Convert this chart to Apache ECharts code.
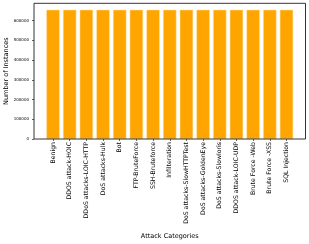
<!DOCTYPE html>
<html>
<head>
<meta charset="utf-8">
<style>html,body{margin:0;padding:0;background:#fff;}#c{width:309px;height:244px;}</style>
<script src="https://cdn.jsdelivr.net/npm/echarts@6/dist/echarts.min.js"></script>
</head>
<body>
<div id="c"></div>
<script>
var categories = ["Benign","DDOS attack-HOIC","DDoS attacks-LOIC-HTTP","DoS attacks-Hulk","Bot","FTP-BruteForce","SSH-Bruteforce","Infilteration","DoS attacks-SlowHTTPTest","DoS attacks-GoldenEye","DoS attacks-Slowloris","DDOS attack-LOIC-UDP","Brute Force -Web","Brute Force -XSS","SQL Injection"];
var counts = [655000,655000,655000,655000,655000,655000,655000,655000,655000,655000,655000,655000,655000,655000,655000];
var yTicks = [0,100000,200000,300000,400000,500000,600000];

var yMax = 687750;
var font = 'DejaVu Sans';
var chart = echarts.init(document.getElementById('c'), null, {renderer:'canvas'});
chart.setOption({
  animation: false,
  grid: [
    {left: 44.67, right: 14.17, top: 3.3, bottom: 105, containLabel: false, outerBoundsMode: 'none'},
    {left: 34, right: 3.5, top: 3.3, bottom: 105, containLabel: false, outerBoundsMode: 'none',
     show: true, borderColor: '#000', borderWidth: 0.8, backgroundColor: 'transparent', z: 5}
  ],
  xAxis: [
    {type: 'category', gridIndex: 0, data: categories,
     axisLine: {show: false},
     axisTick: {show: true, alignWithLabel: true, length: 2, lineStyle: {color: '#000', width: 0.6}},
     axisLabel: {rotate: 90, fontSize: 6.2, fontFamily: font, color: '#000', margin: 3, interval: 0},
     name: 'Attack Categories', nameLocation: 'middle', nameGap: 93.5, nameMoveOverlap: false,
     nameTextStyle: {fontSize: 6.5, fontFamily: font, color: '#000'}},
    {type: 'value', gridIndex: 1, show: false}
  ],
  yAxis: [
    {type: 'value', gridIndex: 0, min: 0, max: yMax, show: false},
    {type: 'value', gridIndex: 1, min: 0, max: yMax, interval: 100000,
     axisLine: {show: false},
     splitLine: {show: false},
     axisTick: {show: true, length: 2, lineStyle: {color: '#000', width: 0.6}, customValues: yTicks},
     axisLabel: {fontSize: 4, fontFamily: font, color: '#000', margin: 5,
       customValues: yTicks, formatter: function (v) { return String(v); }},
     name: 'Number of Instances', nameLocation: 'middle', nameGap: 24, nameMoveOverlap: false,
     nameTextStyle: {fontSize: 6.5, fontFamily: font, color: '#000'}}
  ],
  series: [{
    type: 'bar', xAxisIndex: 0, yAxisIndex: 0, data: counts,
    barWidth: '80%',
    itemStyle: {color: '#FFA500', borderColor: '#FFE0A8', borderWidth: 0.5}
  }]
});
</script>
</body>
</html>
